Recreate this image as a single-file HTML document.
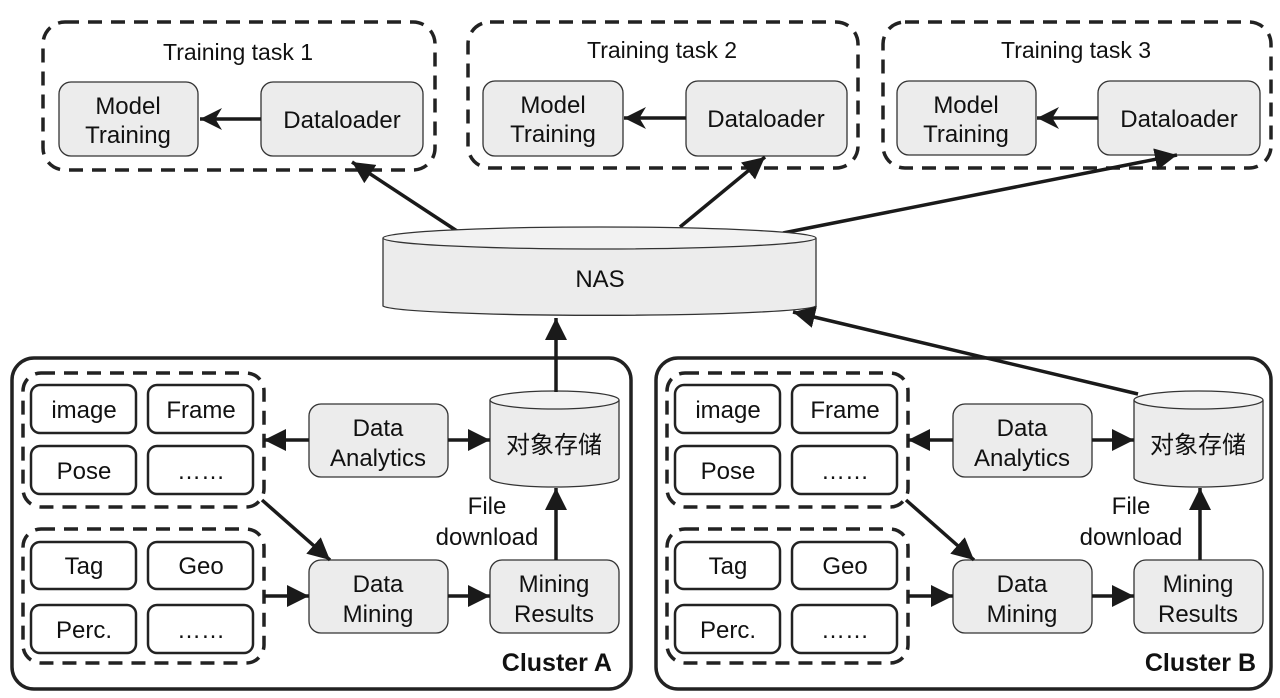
<!DOCTYPE html>
<html><head><meta charset="utf-8"><style>
html,body{margin:0;padding:0;background:#fff;}
svg{display:block;}
text{font-family:"Liberation Sans","Noto Sans CJK SC",sans-serif;fill:#111;}
</style></head><body>
<svg width="1280" height="698" viewBox="0 0 1280 698" xmlns="http://www.w3.org/2000/svg">
<defs>
<marker id="ah" viewBox="0 0 10 10" refX="10" refY="5" markerWidth="22" markerHeight="22" markerUnits="userSpaceOnUse" orient="auto"><path d="M0,0 L10,5 L0,10 z" fill="#1a1a1a"/></marker>
<marker id="ao" viewBox="0 0 10 10" refX="10" refY="5" markerWidth="22" markerHeight="22" markerUnits="userSpaceOnUse" orient="auto"><path d="M0,0 L10,5 L0,10 L3,5 z" fill="#1a1a1a"/></marker>
</defs>
<g fill="none" stroke="#222" stroke-width="3.5" stroke-dasharray="14 9">
<rect x="43" y="22" width="392" height="148" rx="22"/>
<rect x="468" y="22" width="390" height="146" rx="22"/>
<rect x="883" y="22" width="388" height="146" rx="22"/>
</g>
<g font-size="23" text-anchor="middle">
<text x="238" y="60">Training task 1</text>
<text x="662" y="58">Training task 2</text>
<text x="1076" y="58">Training task 3</text>
</g>
<g fill="#ececec" stroke="#333" stroke-width="1.3">
<rect x="59" y="82" width="139" height="74" rx="12"/>
<rect x="261" y="82" width="162" height="74" rx="12"/>
<rect x="483" y="81" width="140" height="75" rx="12"/>
<rect x="686" y="81" width="161" height="75" rx="12"/>
<rect x="897" y="81" width="139" height="74" rx="12"/>
<rect x="1098" y="81" width="162" height="74" rx="12"/>
</g>
<g font-size="24" text-anchor="middle">
<text x="128" y="114">Model</text><text x="128" y="143">Training</text>
<text x="342" y="128">Dataloader</text>
<text x="553" y="113">Model</text><text x="553" y="142">Training</text>
<text x="766" y="127">Dataloader</text>
<text x="966" y="113">Model</text><text x="966" y="142">Training</text>
<text x="1179" y="127">Dataloader</text>
</g>
<g stroke="#1a1a1a" stroke-width="3.5" fill="none">
<line x1="261" y1="119" x2="200" y2="119" marker-end="url(#ao)"/>
<line x1="686" y1="118" x2="624" y2="118" marker-end="url(#ao)"/>
<line x1="1098" y1="118" x2="1037" y2="118" marker-end="url(#ao)"/>
<line x1="457" y1="231" x2="352" y2="162" marker-end="url(#ah)"/>
<line x1="680" y1="227" x2="765" y2="157" marker-end="url(#ah)"/>
<line x1="783" y1="233" x2="1177" y2="155" marker-end="url(#ah)"/>
</g>
<path d="M383,238 L383,306 A217,10 0 0 0 816,306 L816,238" fill="#ececec" stroke="#333" stroke-width="1.3"/>
<ellipse cx="599.5" cy="238" rx="216.5" ry="11" fill="#f2f2f2" stroke="#333" stroke-width="1.3"/>
<text x="600" y="287" font-size="24" text-anchor="middle">NAS</text>

<g>
<rect x="12" y="358" width="619" height="331" rx="22" fill="none" stroke="#222" stroke-width="3.5"/>
<g fill="none" stroke="#222" stroke-width="3.5" stroke-dasharray="14 9">
<rect x="23" y="373" width="241" height="134" rx="18"/>
<rect x="23" y="529" width="241" height="134" rx="18"/>
</g>
<g fill="#fff" stroke="#222" stroke-width="2.5">
<rect x="31" y="385" width="105" height="48" rx="9"/>
<rect x="148" y="385" width="105" height="48" rx="9"/>
<rect x="31" y="446" width="105" height="48" rx="9"/>
<rect x="148" y="446" width="105" height="48" rx="9"/>
<rect x="31" y="542" width="105" height="47" rx="9"/>
<rect x="148" y="542" width="105" height="47" rx="9"/>
<rect x="31" y="605" width="105" height="48" rx="9"/>
<rect x="148" y="605" width="105" height="48" rx="9"/>
</g>
<g font-size="24" text-anchor="middle">
<text x="84" y="418">image</text><text x="201" y="418">Frame</text>
<text x="84" y="479">Pose</text><text x="201" y="479">……</text>
<text x="84" y="574">Tag</text><text x="201" y="574">Geo</text>
<text x="84" y="638">Perc.</text><text x="201" y="638">……</text>
</g>
<g fill="#ececec" stroke="#333" stroke-width="1.3">
<rect x="309" y="404" width="139" height="73" rx="12"/>
<rect x="309" y="560" width="139" height="73" rx="12"/>
<rect x="490" y="560" width="129" height="73" rx="12"/>
<path d="M490,400 L490,478 A64.5,9 0 0 0 619,478 L619,400" />
</g>
<ellipse cx="554.5" cy="400" rx="64.5" ry="9" fill="#f2f2f2" stroke="#333" stroke-width="1.3"/>
<g font-size="24" text-anchor="middle">
<text x="378" y="436">Data</text><text x="378" y="466">Analytics</text>
<text x="378" y="592">Data</text><text x="378" y="622">Mining</text>
<text x="554" y="592">Mining</text><text x="554" y="622">Results</text>
<text x="554" y="453">对象存储</text>
<text x="487" y="514">File</text><text x="487" y="545">download</text>
</g>
<text x="612" y="671" font-size="25" font-weight="bold" text-anchor="end">Cluster A</text>
<g stroke="#1a1a1a" stroke-width="3.5" fill="none">
<line x1="309" y1="440" x2="264" y2="440" marker-end="url(#ah)"/>
<line x1="448" y1="440" x2="490" y2="440" marker-end="url(#ah)"/>
<line x1="262" y1="500" x2="330" y2="560" marker-end="url(#ah)"/>
<line x1="264" y1="596" x2="309" y2="596" marker-end="url(#ah)"/>
<line x1="448" y1="596" x2="490" y2="596" marker-end="url(#ah)"/>
<line x1="556" y1="560" x2="556" y2="488" marker-end="url(#ah)"/>
</g>
</g>
<g transform="translate(644,0)">
<rect x="12" y="358" width="615" height="331" rx="22" fill="none" stroke="#222" stroke-width="3.5"/>
<g fill="none" stroke="#222" stroke-width="3.5" stroke-dasharray="14 9">
<rect x="23" y="373" width="241" height="134" rx="18"/>
<rect x="23" y="529" width="241" height="134" rx="18"/>
</g>
<g fill="#fff" stroke="#222" stroke-width="2.5">
<rect x="31" y="385" width="105" height="48" rx="9"/>
<rect x="148" y="385" width="105" height="48" rx="9"/>
<rect x="31" y="446" width="105" height="48" rx="9"/>
<rect x="148" y="446" width="105" height="48" rx="9"/>
<rect x="31" y="542" width="105" height="47" rx="9"/>
<rect x="148" y="542" width="105" height="47" rx="9"/>
<rect x="31" y="605" width="105" height="48" rx="9"/>
<rect x="148" y="605" width="105" height="48" rx="9"/>
</g>
<g font-size="24" text-anchor="middle">
<text x="84" y="418">image</text><text x="201" y="418">Frame</text>
<text x="84" y="479">Pose</text><text x="201" y="479">……</text>
<text x="84" y="574">Tag</text><text x="201" y="574">Geo</text>
<text x="84" y="638">Perc.</text><text x="201" y="638">……</text>
</g>
<g fill="#ececec" stroke="#333" stroke-width="1.3">
<rect x="309" y="404" width="139" height="73" rx="12"/>
<rect x="309" y="560" width="139" height="73" rx="12"/>
<rect x="490" y="560" width="129" height="73" rx="12"/>
<path d="M490,400 L490,478 A64.5,9 0 0 0 619,478 L619,400" />
</g>
<ellipse cx="554.5" cy="400" rx="64.5" ry="9" fill="#f2f2f2" stroke="#333" stroke-width="1.3"/>
<g font-size="24" text-anchor="middle">
<text x="378" y="436">Data</text><text x="378" y="466">Analytics</text>
<text x="378" y="592">Data</text><text x="378" y="622">Mining</text>
<text x="554" y="592">Mining</text><text x="554" y="622">Results</text>
<text x="554" y="453">对象存储</text>
<text x="487" y="514">File</text><text x="487" y="545">download</text>
</g>
<text x="612" y="671" font-size="25" font-weight="bold" text-anchor="end">Cluster B</text>
<g stroke="#1a1a1a" stroke-width="3.5" fill="none">
<line x1="309" y1="440" x2="264" y2="440" marker-end="url(#ah)"/>
<line x1="448" y1="440" x2="490" y2="440" marker-end="url(#ah)"/>
<line x1="262" y1="500" x2="330" y2="560" marker-end="url(#ah)"/>
<line x1="264" y1="596" x2="309" y2="596" marker-end="url(#ah)"/>
<line x1="448" y1="596" x2="490" y2="596" marker-end="url(#ah)"/>
<line x1="556" y1="560" x2="556" y2="488" marker-end="url(#ah)"/>
</g>
</g>
<g stroke="#1a1a1a" stroke-width="3.5" fill="none">
<line x1="556" y1="392" x2="556" y2="318" marker-end="url(#ah)"/>
<line x1="1138" y1="394" x2="793" y2="312" marker-end="url(#ah)"/>
</g>
</svg>
</body></html>
